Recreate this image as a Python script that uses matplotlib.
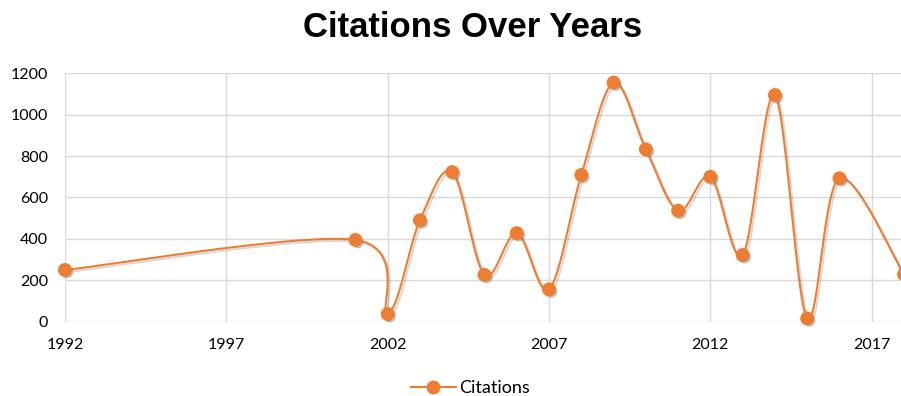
import numpy as np
import matplotlib
matplotlib.use("Agg")
import matplotlib.pyplot as plt
import matplotlib.patheffects as pe
from matplotlib.lines import Line2D

years = [1992, 2001, 2002, 2003, 2004, 2005, 2006, 2007, 2008, 2009,
         2010, 2011, 2012, 2013, 2014, 2015, 2016, 2018]
citations = [250, 395, 37, 490, 723, 226, 428, 156, 709, 1155,
             833, 536, 700, 322, 1095, 16, 693, 229]
xticks = [1992, 1997, 2002, 2007, 2012, 2017]
yticks = [0, 200, 400, 600, 800, 1000, 1200]

COLOR = "#ED7D31"
TICK_FONT = ["Lato", "DejaVu Sans"]


def smooth(xs, ys, n=40):
    xs = np.asarray(xs, float)
    ys = np.asarray(ys, float)
    P = np.column_stack([xs, ys])
    out = []
    for i in range(len(P) - 1):
        p0 = P[i - 1] if i > 0 else P[i]
        p1 = P[i]
        p2 = P[i + 1]
        p3 = P[i + 2] if i + 2 < len(P) else P[i + 1]
        c1 = p1 + (p2 - p0) / 6.0
        c2 = p2 - (p3 - p1) / 6.0
        t = np.linspace(0, 1, n)[:, None]
        seg = ((1 - t) ** 3) * p1 + 3 * ((1 - t) ** 2) * t * c1 + 3 * (1 - t) * t ** 2 * c2 + t ** 3 * p2
        out.append(seg if i == 0 else seg[1:])
    arr = np.vstack(out)
    return arr[:, 0], arr[:, 1]


fig = plt.figure(figsize=(9.01, 3.96), dpi=100)
ax = fig.add_axes([65 / 901, 1 - 321.7 / 396, 839 / 901, 248.4 / 396])

sx, sy = smooth(years, citations)
ax.plot(sx, sy, color=COLOR, lw=1.5, zorder=3, clip_on=True,
        path_effects=[pe.SimpleLineShadow(offset=(1.5, -1.5), shadow_color="gray", alpha=0.3), pe.Normal()])
ax.plot(years, citations, linestyle="none", marker="o", markersize=9,
        markerfacecolor=COLOR, markeredgecolor=COLOR, zorder=4, clip_on=False,
        path_effects=[pe.SimplePatchShadow(offset=(1.5, -1.5), shadow_rgbFace="gray", alpha=0.5), pe.Normal()])

ax.set_xlim(1992, 2018)
ax.set_ylim(0, 1200)
ax.set_xticks(xticks)
ax.set_yticks(yticks)
ax.set_xticklabels([str(v) for v in xticks], fontsize=11.5, family=TICK_FONT)
ax.set_yticklabels([str(v) for v in yticks], fontsize=11.5, family=TICK_FONT)
ax.tick_params(length=0)
ax.tick_params(axis="x", pad=12)
ax.tick_params(axis="y", pad=12)
ax.grid(True, color="#D9D9D9", lw=1)
ax.set_axisbelow(True)
for s in ax.spines.values():
    s.set_visible(False)

fig.text(0.524, 0.93, "Citations Over Years", ha="center", va="center",
         fontsize=25, fontweight="bold", family=["Liberation Sans", "DejaVu Sans"])

handle = Line2D([], [], color=COLOR, lw=1.5, marker="o", markersize=9,
                markerfacecolor=COLOR, markeredgecolor=COLOR)
fig.legend([handle], ["Citations"], loc="center", bbox_to_anchor=(0.522, 0.02),
           frameon=False, prop={"family": TICK_FONT, "size": 13},
           handlelength=2.5, handletextpad=0.2)

fig.savefig("out.png", dpi=100)
